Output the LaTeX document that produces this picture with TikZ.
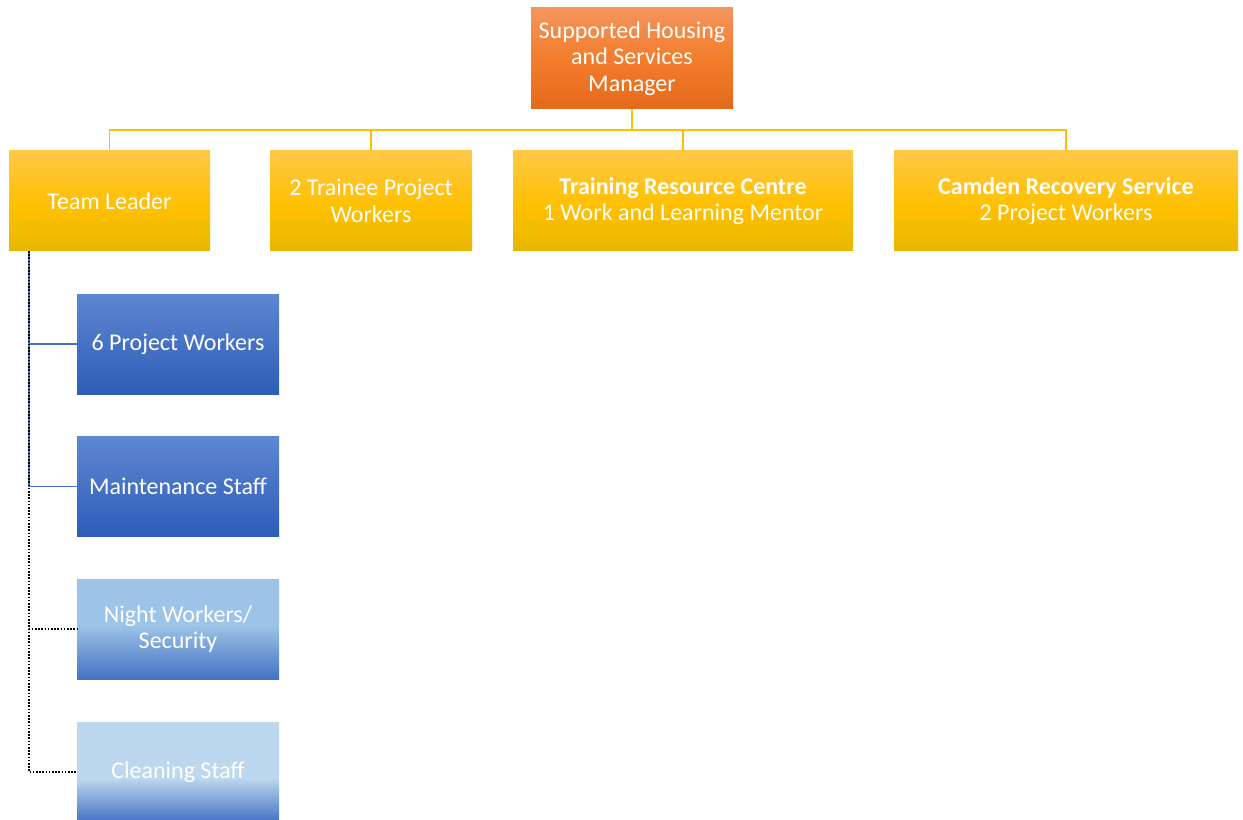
\documentclass[tikz,border=0pt]{standalone}
\usepackage{fontspec}
\setmainfont{Carlito}
\usetikzlibrary{calc}
\definecolor{orT}{HTML}{F4955E}
\definecolor{orM}{HTML}{F27D2C}
\definecolor{orB}{HTML}{E46A1A}
\definecolor{yeT}{HTML}{FFC846}
\definecolor{yeM}{HTML}{FFC000}
\definecolor{yeB}{HTML}{E6B800}
\definecolor{dbT}{HTML}{5E87D1}
\definecolor{dbB}{HTML}{2E5DB8}
\definecolor{nwT}{HTML}{9DC3E6}
\definecolor{clT}{HTML}{BDD7EE}
\definecolor{blB}{HTML}{4472C4}
\definecolor{lineY}{HTML}{FFC000}
\definecolor{lineB}{HTML}{4472C4}
\pgfdeclareverticalshading{orsh}{100bp}{color(0bp)=(orB); color(25bp)=(orB); color(50bp)=(orM); color(75bp)=(orT); color(100bp)=(orT)}
\pgfdeclareverticalshading{yesh}{100bp}{color(0bp)=(yeB); color(25bp)=(yeB); color(47bp)=(yeM); color(75bp)=(yeT); color(100bp)=(yeT)}
\pgfdeclareverticalshading{dbsh}{100bp}{color(0bp)=(dbB); color(25bp)=(dbB); color(75bp)=(dbT); color(100bp)=(dbT)}
\pgfdeclareverticalshading{nwsh}{100bp}{color(0bp)=(blB); color(25bp)=(blB); color(52bp)=(nwT); color(100bp)=(nwT)}
\pgfdeclareverticalshading{clsh}{100bp}{color(0bp)=(blB); color(25bp)=(blB); color(47bp)=(clT); color(100bp)=(clT)}
\tikzset{
  box/.style={rectangle, inner sep=0pt, align=center, text=white,
    font=\fontsize{18}{20}\selectfont, minimum height=75pt},
  mgrbox/.style={box, shading=orsh, minimum width=151.5pt, minimum height=75.75pt},
  ybox/.style={box, shading=yesh},
  dbbox/.style={box, shading=dbsh, minimum width=151.5pt},
  nwbox/.style={box, shading=nwsh, minimum width=151.5pt},
  clbox/.style={box, shading=clsh, minimum width=151.5pt},
  yline/.style={draw=lineY, line width=1pt},
  bline/.style={draw=lineB, line width=0.9pt},
  dline/.style={draw=black, line width=1.3pt, dash pattern=on 1.2pt off 1.2pt},
}
\begin{document}
\begin{tikzpicture}[x=0.75pt, y=-0.75pt]
\useasboundingbox (0,0) rectangle (1243,820);
\node[mgrbox] (mgr) at (632,58.5) {Supported Housing\\and Services\\Manager};
\node[ybox, minimum width=150.75pt] (tl) at (109.5,201) {Team Leader};
\node[ybox, minimum width=151.5pt] (tp) at (371,201) {2 Trainee Project\\Workers};
\node[ybox, minimum width=255pt] (trc) at (683,201) {\textbf{Training Resource Centre}\\1 Work and Learning Mentor};
\node[ybox, minimum width=258pt] (crs) at (1066,201) {\textbf{Camden Recovery Service}\\2 Project Workers};
\node[dbbox] (pw) at (178,344) {6 Project Workers};
\node[dbbox] (ms) at (178,486.5) {Maintenance Staff};
\node[nwbox] (nw) at (178,629) {Night Workers/\\Security};
\node[clbox] (cl) at (178,772) {Cleaning Staff};
% top bus
\coordinate (bus) at (632,130);
\draw[yline] (mgr.south) -- (bus);
\draw[yline] (bus) -| (tl.north);
\draw[yline] (bus) -| (tp.north);
\draw[yline] (bus) -| (trc.north);
\draw[yline] (bus) -| (crs.north);
% left tree
\coordinate (tlc) at (29,251);
\draw[bline] (tlc) |- (pw.west);
\draw[bline] (tlc) |- (ms.west);
\draw[dline] (tlc) |- (nw.west);
\draw[dline] (tlc) |- (cl.west);
\end{tikzpicture}
\end{document}
